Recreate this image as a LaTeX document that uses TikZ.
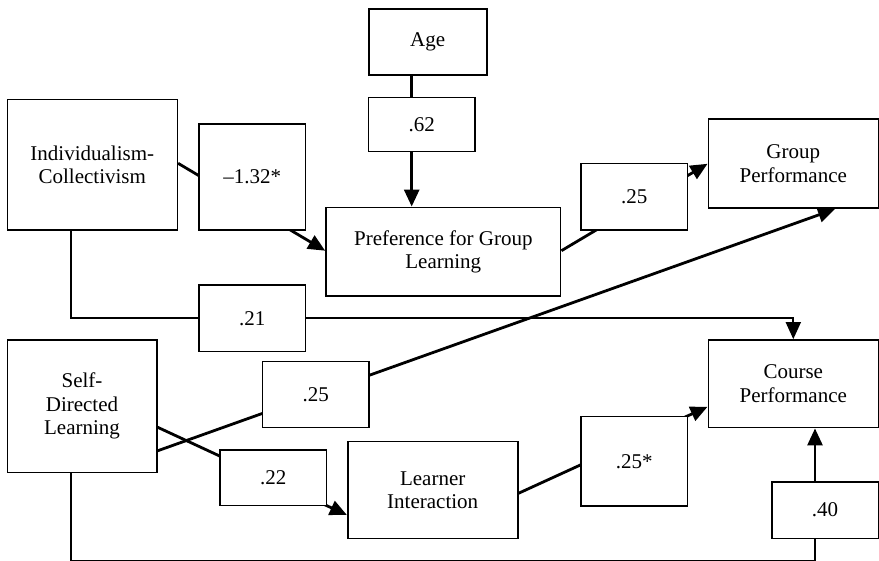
\documentclass[tikz,border=0pt]{standalone}
\usepackage{fontspec}
\setmainfont{Liberation Serif}
\usetikzlibrary{arrows.meta,calc}
\pgfdeclarelayer{background}
\pgfsetlayers{background,main}
\begin{document}
\begin{tikzpicture}[x=1pt,y=-1pt,
  box/.style={draw, line width=1.6pt, fill=white, align=center, inner sep=0pt,
    font=\fontsize{21}{23.5}\selectfont},
  coef/.style={box},
  path thick/.style={line width=2.8pt},
  path thin/.style={line width=1.8pt},
  tip/.style={-{Triangle[length=17pt,width=15pt]}},
]
\useasboundingbox (0,0) rectangle (879,561);

% variables
\node[box, minimum width=118pt, minimum height=66pt] (age) at (427.7,42.3) {Age};
\node[box, minimum width=170pt, minimum height=130.7pt] (indiv) at (92.3,164.7) {Individualism-\\Collectivism};
\node[box, minimum width=234.7pt, minimum height=88.7pt] (pref) at (443.3,251.7) {Preference for Group\\Learning};
\node[box, minimum width=170pt, minimum height=89pt] (group) at (793.3,163.8) {Group\\Performance};
\node[box, minimum width=149.4pt, minimum height=132.3pt] (sdl) at (82,406.2) {Self-\\Directed\\Learning};
\node[box, minimum width=170pt, minimum height=87.7pt] (course) at (793.3,383.8) {Course\\Performance};
\node[box, minimum width=170pt, minimum height=96.6pt] (learner) at (432.7,490) {Learner\\Interaction};

% path coefficients
\node[coef, minimum width=106.3pt, minimum height=54pt] (c62) at (421.8,124.7) {.62};
\node[coef, minimum width=106.3pt, minimum height=106pt] (c132) at (252.2,177) {–1.32*};
\node[coef, minimum width=106.7pt, minimum height=66.7pt] (c25a) at (634.3,196.7) {.25};
\node[coef, minimum width=106.3pt, minimum height=66.7pt] (c21) at (252.2,318.3) {.21};
\node[coef, minimum width=106.3pt, minimum height=66pt] (c25b) at (315.8,394.7) {.25};
\node[coef, minimum width=106.7pt, minimum height=55.7pt] (c22) at (273.3,477.8) {.22};
\node[coef, minimum width=106.7pt, minimum height=89pt] (c25s) at (634.3,461.2) {.25*};
\node[coef, minimum width=106.6pt, minimum height=56.6pt] (c40) at (825,510) {.40};

% connectors run beneath the coefficient boxes
\begin{pgfonlayer}{background}
  \draw[path thick, tip] ([xshift=-16pt]age.south) -- ([xshift=-31.6pt]pref.north);
  \draw[path thick, tip] ([yshift=1.4pt]indiv.east) -- ([yshift=1pt]pref.west);
  \draw[path thick, tip] ([yshift=1pt]pref.east) -- (group.west);
  \draw[path thin, tip] ([xshift=-21.3pt]indiv.south) |- (c21) -| (course.north);
  \draw[path thick, tip] ([yshift=22.3pt]sdl.south east) -- ([xshift=41.7pt]group.south);
  \draw[path thick, tip] ([yshift=-21pt]sdl.east) -- ([yshift=-25pt]learner.west);
  \draw[path thick, tip] ([yshift=-3.3pt]learner.east) -- ([yshift=-23pt]course.west);
  \draw[path thin] ([xshift=-11pt]sdl.south) -- ++(0,87.7) -| ([xshift=-10pt]c40.south);
  \draw[path thick, tip] ([xshift=-10pt]c40.north) -- ([xshift=21.7pt]course.south);
\end{pgfonlayer}
\end{tikzpicture}
\end{document}
